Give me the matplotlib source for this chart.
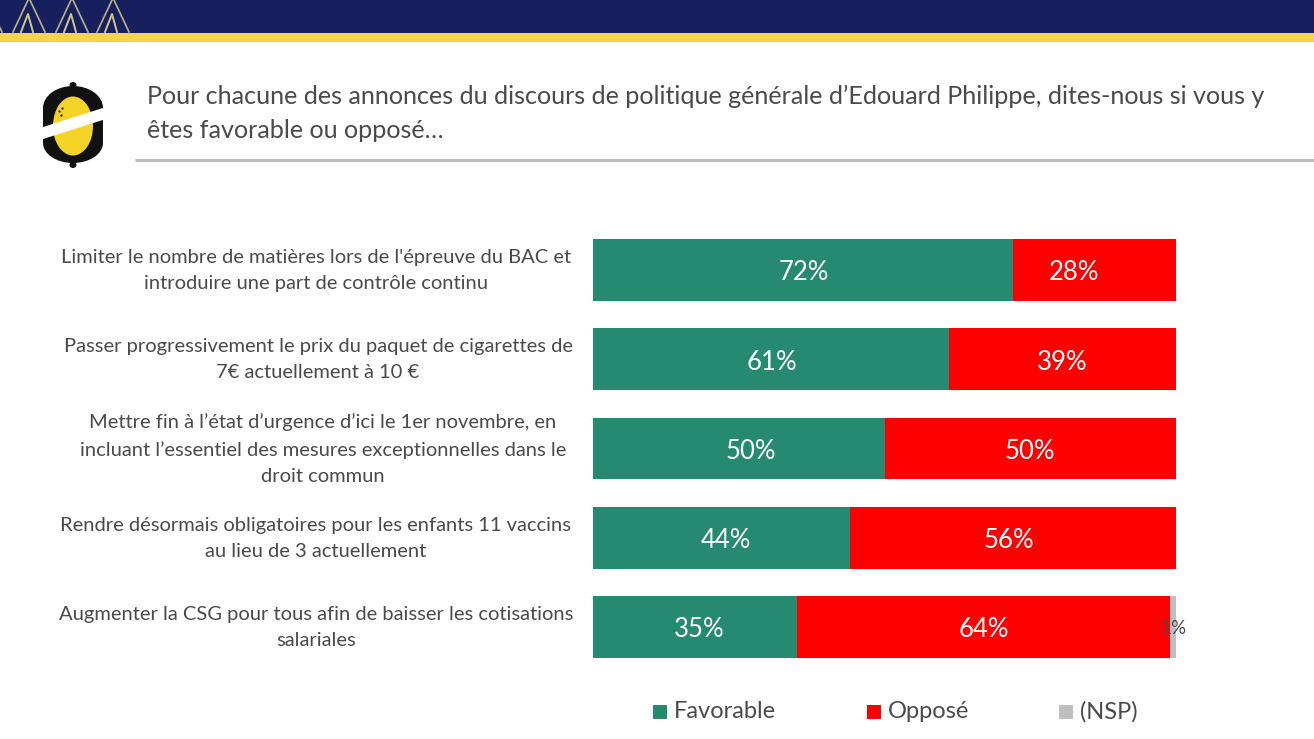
import matplotlib
matplotlib.use("Agg")
import matplotlib.pyplot as plt
from matplotlib.patches import Ellipse, Polygon, Rectangle

plt.rcParams["font.family"] = ["Lato", "DejaVu Sans"]

questions = [
    "Limiter le nombre de matières lors de l'épreuve du BAC et\nintroduire une part de contrôle continu",
    "Passer progressivement le prix du paquet de cigarettes de\n7€ actuellement à 10 €",
    "Mettre fin à l’état d’urgence d’ici le 1er novembre, en\nincluant l’essentiel des mesures exceptionnelles dans le\ndroit commun",
    "Rendre désormais obligatoires pour les enfants 11 vaccins\nau lieu de 3 actuellement",
    "Augmenter la CSG pour tous afin de baisser les cotisations\nsalariales",
]
favorable = [72, 61, 50, 44, 35]
oppose = [28, 39, 50, 56, 64]
nsp = [0, 0, 0, 0, 1]

title_lines = [
    "Pour chacune des annonces du discours de politique générale d’Edouard Philippe, dites-nous si vous y",
    "êtes favorable ou opposé…",
]
legend_names = ["Favorable", "Opposé", "(NSP)"]

GREEN = "#268a70"
RED = "#ff0000"
GREY = "#bfbfbf"
TEXT = "#4a4a4a"
W, H = 1314, 739

fig = plt.figure(figsize=(W / 100, H / 100), dpi=100)

# slide decoration, in pixel coordinates
bg = fig.add_axes([0, 0, 1, 1])
bg.set_xlim(0, W)
bg.set_ylim(H, 0)
bg.axis("off")
bg.add_patch(Rectangle((0, 0), W, 33, color="#16205f", lw=0))
bg.add_patch(Rectangle((0, 33), W, 9, color="#f7d347", lw=0))
for x0 in [-14, 29, 72, 113]:
    bg.plot([x0 - 16, x0, x0 + 16], [32, -2, 32], color="#d8cc8e", lw=1.2, alpha=0.85)
    bg.plot([x0 - 8, x0 - 1, x0 + 4], [32, 14, 32], color="#e6d98f", lw=1.4, alpha=0.9)

# logo
bg.add_patch(Rectangle((43, 108), 60, 35, color="#111111", lw=0))
bg.add_patch(Ellipse((73, 108), 60, 44, color="#111111", lw=0))
bg.add_patch(Ellipse((73, 143), 60, 40, color="#111111", lw=0))
bg.add_patch(Ellipse((73, 85), 7, 6, color="#111111", lw=0))
bg.add_patch(Ellipse((73, 165), 7, 6, color="#111111", lw=0))
bg.add_patch(Ellipse((73, 126), 40, 59, color="#f6d327", lw=0))
bg.add_patch(Polygon([[40, 128], [106, 107], [106, 119], [40, 140]], color="white", lw=0))
bg.scatter([59, 62, 61], [111, 108, 115], s=3, color="#333333", lw=0)

bg.plot([135, W], [160, 160], color="#bdbdbd", lw=2.2, solid_capstyle="butt")
bg.text(147, 96, title_lines[0], fontsize=18.1, color=TEXT, va="center", ha="left")
bg.text(147, 130, title_lines[1], fontsize=18.1, color=TEXT, va="center", ha="left")

# bars
ax = fig.add_axes([593 / W, 1 - 671.6 / H, 583 / W, 446.2 / H])
pos = list(range(len(questions)))
ax.barh(pos, favorable, height=0.69, color=GREEN)
ax.barh(pos, oppose, height=0.69, left=favorable, color=RED)
left_nsp = [f + o for f, o in zip(favorable, oppose)]
ax.barh(pos, nsp, height=0.69, left=left_nsp, color=GREY)
ax.set_xlim(0, 100)
ax.set_ylim(4.5, -0.5)
ax.axis("off")

# the value labels were moved by hand on the slide, not quite centred
fav_nudge = [1, 1, 8.5, 3.5, 3]
opp_nudge = [-15, 0, 0, -3, 0]
for i in pos:
    ax.annotate(f"{favorable[i]}%", (favorable[i] / 2, i), xytext=(fav_nudge[i], -2),
                textcoords="offset points", color="white", fontsize=18.5, ha="center", va="center")
    ax.annotate(f"{oppose[i]}%", (favorable[i] + oppose[i] / 2, i), xytext=(opp_nudge[i], -2),
                textcoords="offset points", color="white", fontsize=18.5, ha="center", va="center")
    if nsp[i]:
        ax.annotate(f"{nsp[i]}%", (left_nsp[i] + nsp[i] / 2, i), xytext=(0, -1),
                    textcoords="offset points", color=TEXT, fontsize=13.5, ha="center", va="center")

# question labels centred on their own block, right edge near the bars
label_centers = [316, 318, 323, 316, 316]
for i in pos:
    bg.text(label_centers[i], 270.5 + i * 89.25, questions[i], color=TEXT, fontsize=14.5,
            ha="center", va="center", linespacing=1.66)

# legend
legend_x = [653, 867, 1059]
for x, name, col in zip(legend_x, legend_names, [GREEN, RED, GREY]):
    bg.add_patch(Rectangle((x, 705), 14, 14, color=col, lw=0))
    bg.text(x + 21, 712, name, color=TEXT, fontsize=17, va="center", ha="left")

fig.savefig("out.png", dpi=100)
